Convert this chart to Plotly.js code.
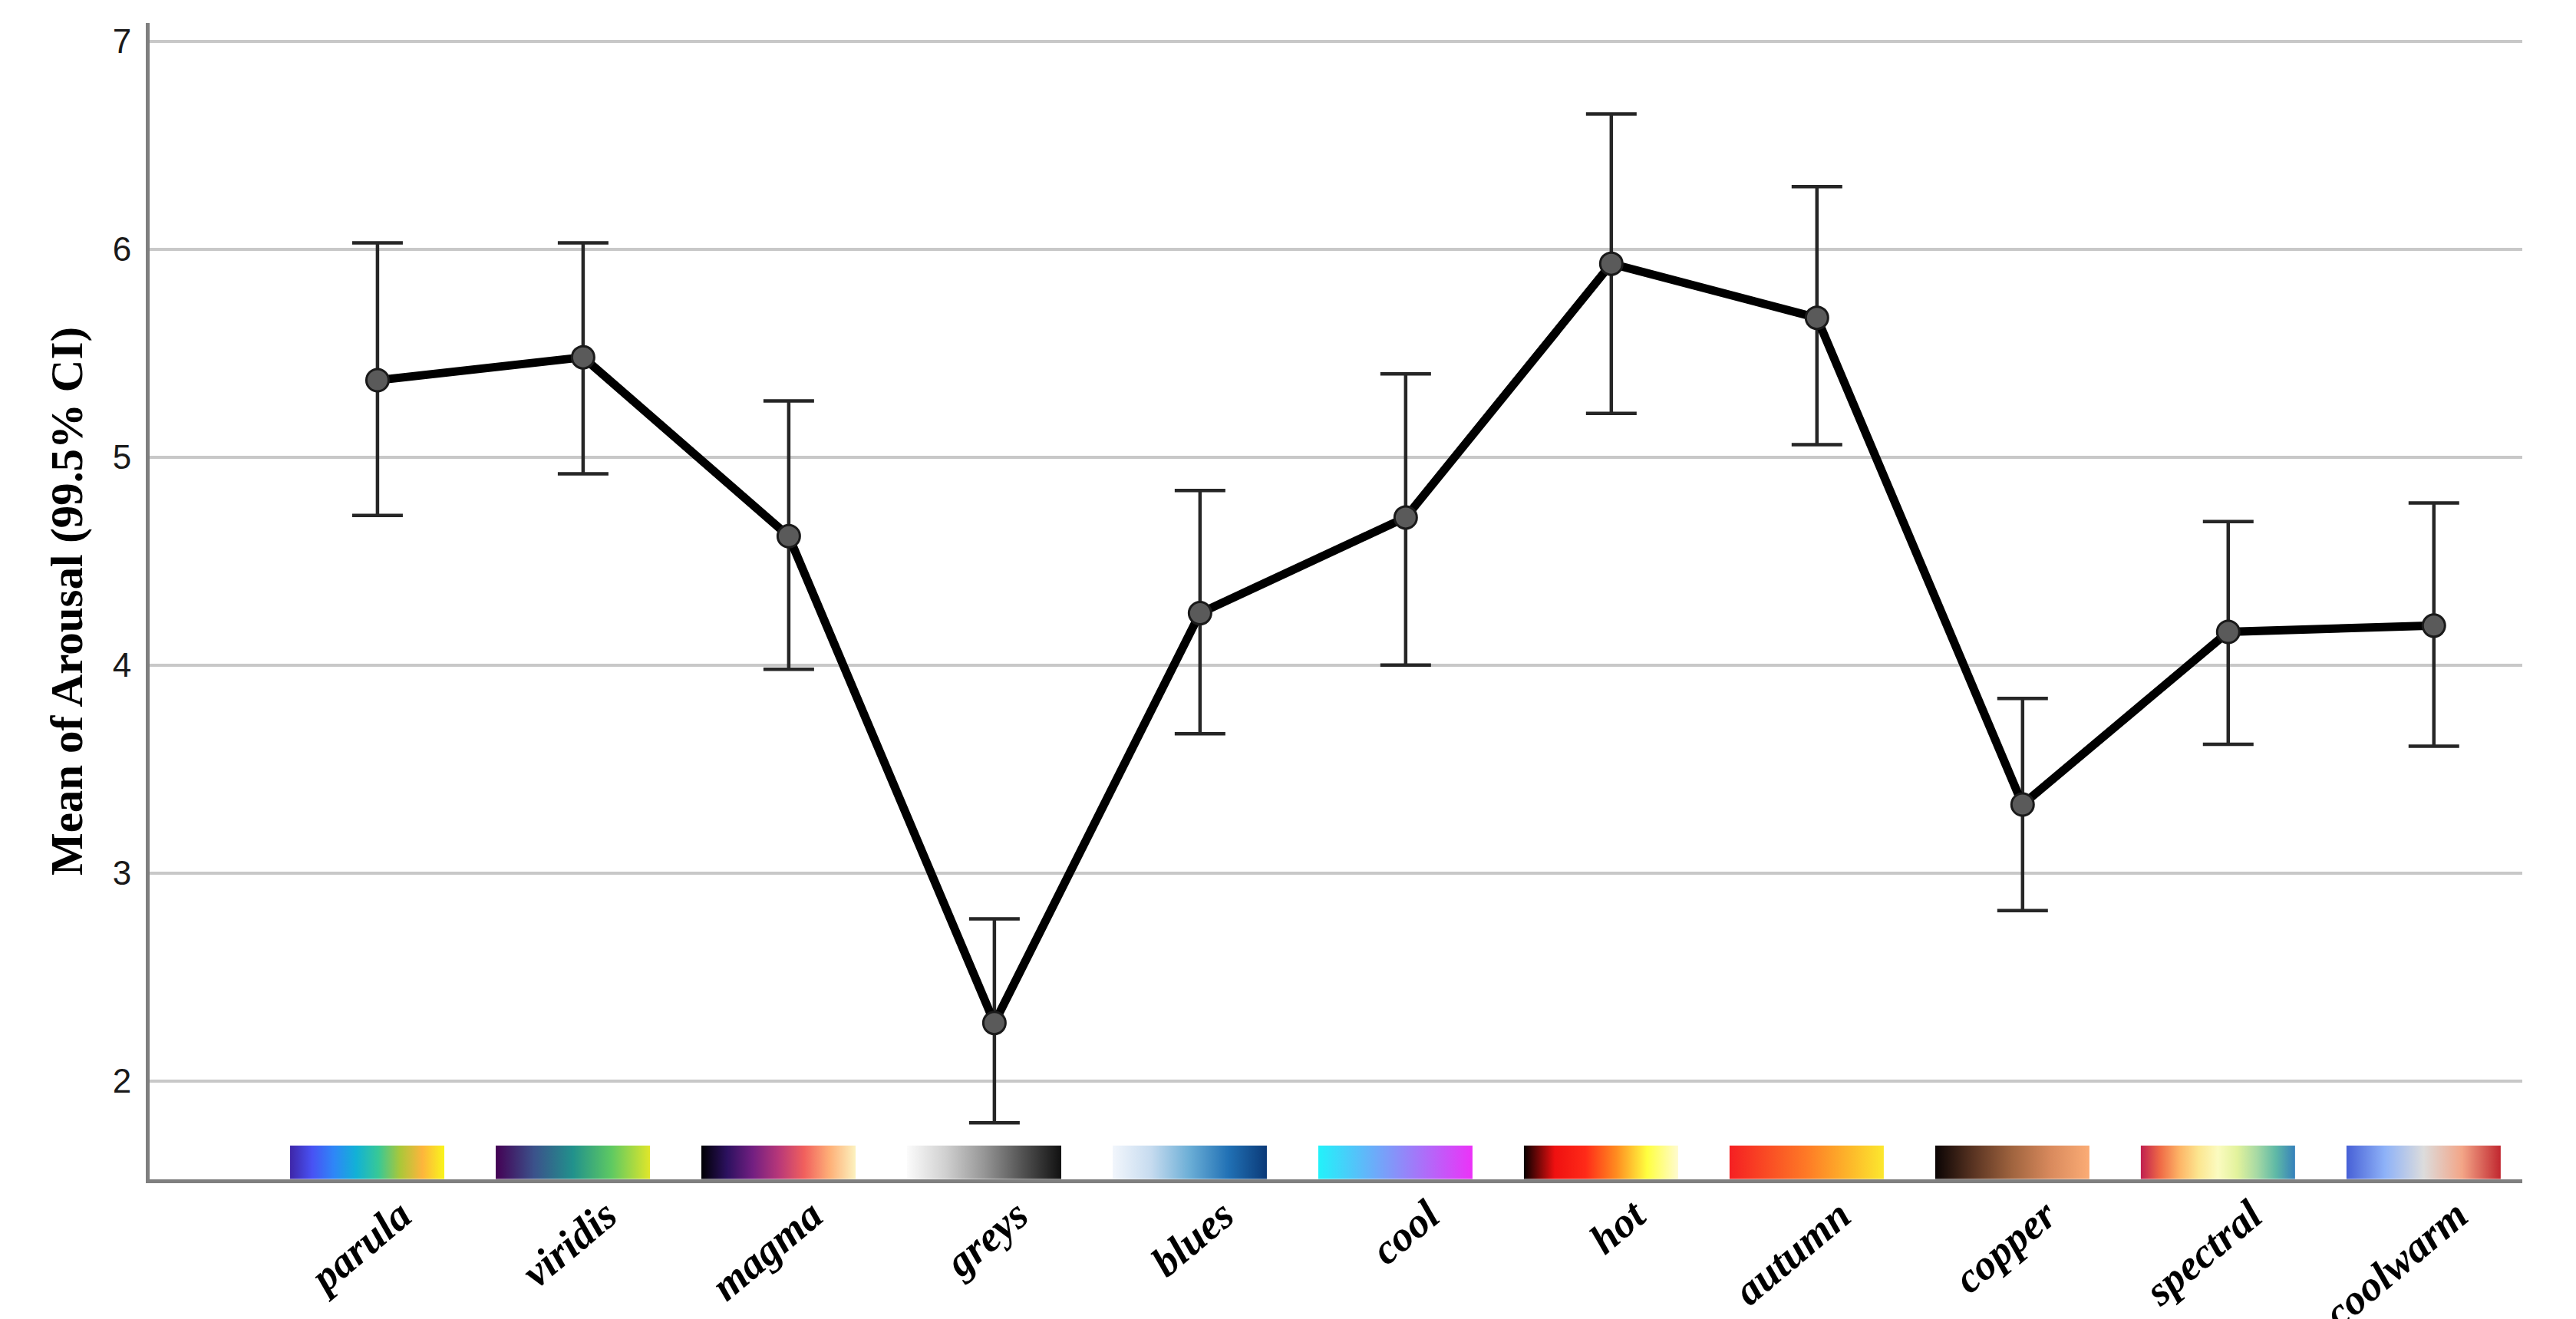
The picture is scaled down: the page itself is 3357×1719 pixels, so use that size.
<!DOCTYPE html>
<html>
<head>
<meta charset="utf-8">
<script src="https://cdn.plot.ly/plotly-3.0.1.min.js"></script>
<style>
  html, body { margin: 0; padding: 0; background: #ffffff; }
  #chart { width: 3357px; height: 1719px; }
</style>
</head>
<body>
<div id="chart"></div>
<script>
// ---- data ----
const categories = ['parula', 'viridis', 'magma', 'greys', 'blues', 'cool', 'hot', 'autumn', 'copper', 'spectral', 'coolwarm'];
const means   = [5.37, 5.48, 4.62, 2.28, 4.25, 4.71, 5.93, 5.67, 3.33, 4.16, 4.19];
const ciUpper = [6.03, 6.03, 5.27, 2.78, 4.84, 5.40, 6.65, 6.30, 3.84, 4.69, 4.78];
const ciLower = [4.72, 4.92, 3.98, 1.80, 3.67, 4.00, 5.21, 5.06, 2.82, 3.62, 3.61];
const yTicks  = [2, 3, 4, 5, 6, 7];
const yTitle  = 'Mean of Arousal (99.5% CI)';

// colour ramps shown under each category (styling)
const ramps = {
  parula:   ['#3e26a8', '#4852f4', '#2e87f7', '#12b1d6', '#37c897', '#abc739', '#fdb53c', '#f9f51c'],
  viridis:  ['#440154', '#3b528b', '#21918c', '#5ec962', '#e0e62a'],
  magma:    ['#000004', '#2c115f', '#721f81', '#b73779', '#f1605d', '#feb078', '#fcf2bf'],
  greys:    ['#fbfbfb', '#d0d0d0', '#969696', '#525252', '#111111'],
  blues:    ['#f2f6fc', '#c6dbef', '#6baed6', '#2171b5', '#0b3a78'],
  cool:     ['#22f2fa', '#ec32f8'],
  hot:      ['#080000', '#ef1010', '#ff2a18', '#ff8c20', '#ffff40', '#fffbd0'],
  autumn:   ['#f51f22', '#fe7a26', '#fce82e'],
  copper:   ['#0a0404', '#5a3422', '#a0643f', '#d98a5d', '#fbac75'],
  spectral: ['#c01f4f', '#ef6a46', '#fdb466', '#fce690', '#fbfbc0', '#e2f29c', '#a8daa4', '#5fb9a6', '#3681bb'],
  coolwarm: ['#4760d6', '#8eb2f8', '#dcdcdc', '#f3a587', '#c1272f']
};

const xs = categories.map((c, i) => i);
const stripHalf = 0.375, stripShift = -0.05, stripBottom = 1.53, stripTop = 1.69;

const traces = [];
categories.forEach((c, i) => {
  const cols = ramps[c];
  const cs = cols.map((col, k) => [k / (cols.length - 1), col]);
  const x0 = i + stripShift - stripHalf, x1 = i + stripShift + stripHalf;
  traces.push({
    type: 'scatter', mode: 'lines',
    x: [x0, x1, x1, x0, x0],
    y: [stripBottom, stripBottom, stripTop, stripTop, stripBottom],
    fill: 'toself',
    fillgradient: { type: 'horizontal', colorscale: cs },
    line: { width: 0 },
    hoverinfo: 'skip', showlegend: false
  });
});

traces.push({
  type: 'scatter', mode: 'lines+markers',
  x: xs, y: means,
  line: { color: '#000000', width: 11 },
  marker: { size: 29, color: '#5a5a5a', line: { color: '#1a1a1a', width: 3 } },
  error_y: {
    type: 'data', symmetric: false,
    array: ciUpper.map((u, i) => u - means[i]),
    arrayminus: ciLower.map((l, i) => means[i] - l),
    color: '#262626', thickness: 4.5, width: 33
  },
  showlegend: false
});

const layout = {
  width: 3357, height: 1719,
  paper_bgcolor: '#ffffff', plot_bgcolor: '#ffffff',
  margin: { l: 195, r: 70, t: 30, b: 182 },
  showlegend: false,
  xaxis: {
    range: [-1.108, 10.43],
    tickvals: xs, ticktext: categories,
    tickangle: -40,
    tickfont: { family: 'Liberation Serif, Times New Roman, serif', size: 55, color: '#000000', weight: 'bold', style: 'italic' },
    showgrid: false, zeroline: false,
    showline: true, linecolor: '#7f7f7f', linewidth: 5,
    ticks: '', ticklabelstandoff: -12, ticklabelshift: 30
  },
  yaxis: {
    range: [1.528, 7.087],
    tickvals: yTicks,
    tickfont: { family: 'Liberation Sans, Arial, sans-serif', size: 44, color: '#1a1a1a' },
    showgrid: true, gridcolor: '#c8c8c8', gridwidth: 4,
    zeroline: false,
    showline: true, linecolor: '#7f7f7f', linewidth: 5,
    ticks: '', ticklabelstandoff: 10,
    title: { text: yTitle, standoff: 22,
      font: { family: 'Liberation Serif, Times New Roman, serif', size: 59, color: '#000000', weight: 'bold' } }
  }
};

Plotly.newPlot('chart', traces, layout, { displayModeBar: false, staticPlot: true });
</script>
</body>
</html>
